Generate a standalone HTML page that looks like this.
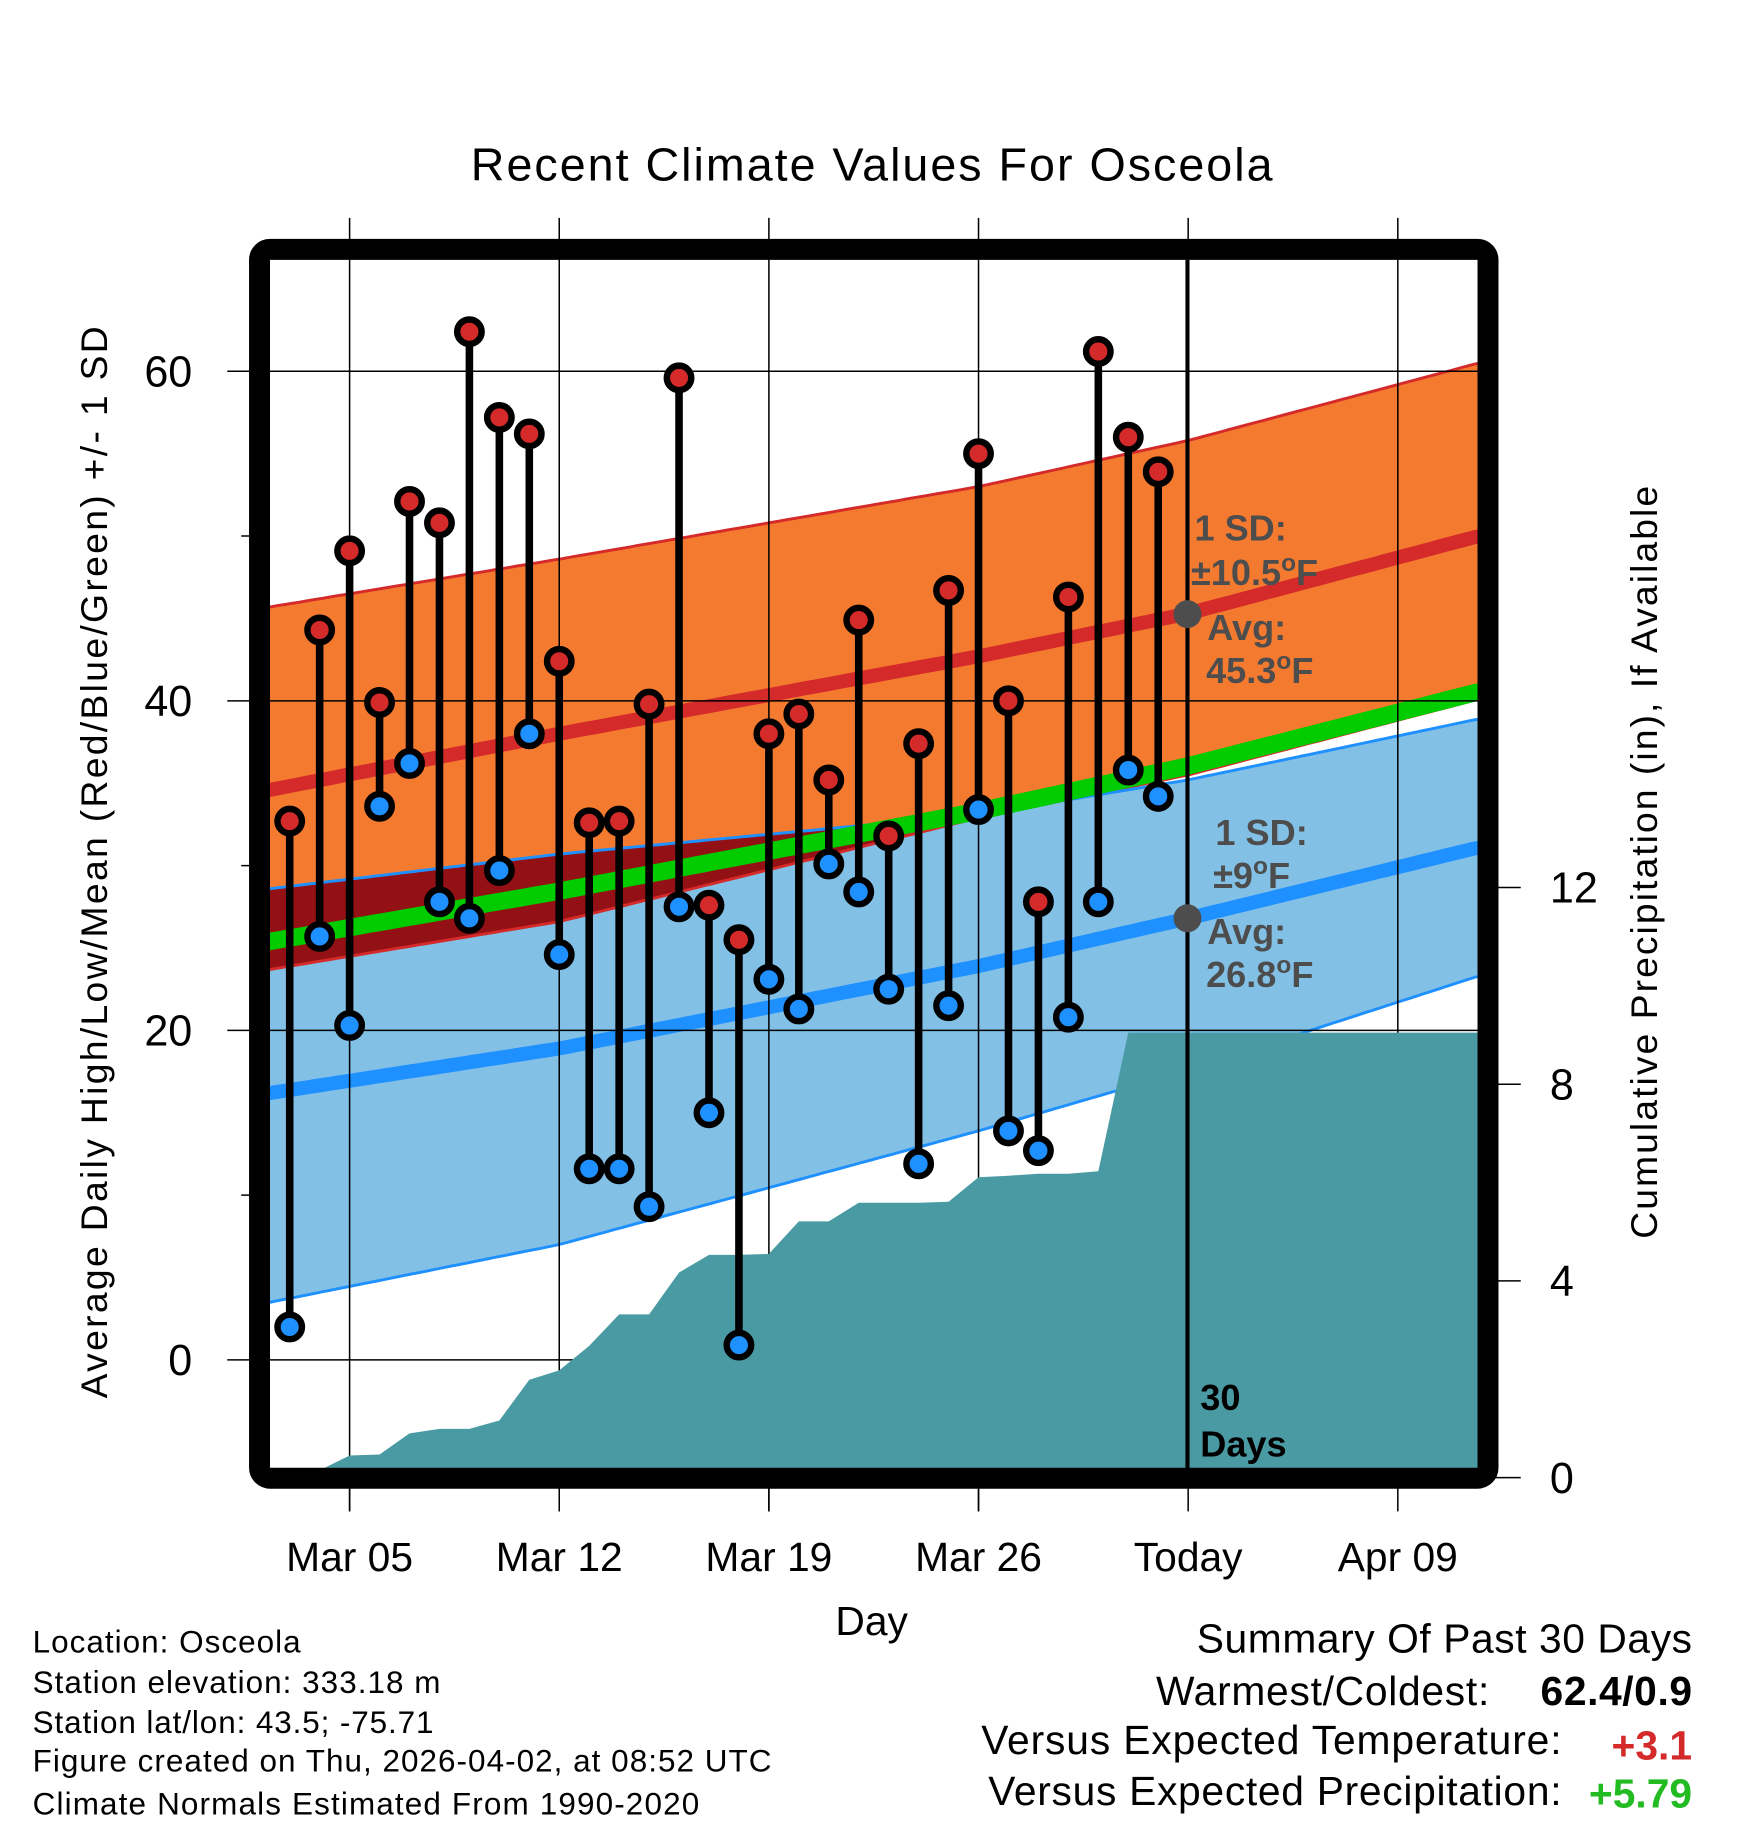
<!DOCTYPE html>
<html><head><meta charset="utf-8"><style>
html,body{margin:0;padding:0;background:#fff;}
svg{display:block;font-family:"Liberation Sans",Arial,sans-serif;}
</style></head><body>
<svg id="chart" width="1748" height="1828" viewBox="0 0 1500 1568.67" xmlns="http://www.w3.org/2000/svg">
<defs><clipPath id="plotclip"><rect x="231.7" y="223" width="1036.6" height="1037"/></clipPath></defs>
<rect width="1500" height="1568.67" fill="#fff"/>
<g id="bands" clip-path="url(#plotclip)"></g>
<g id="grid"></g>
<g id="precip" clip-path="url(#plotclip)"></g>
<g id="gridtop"></g>
<g id="marks"></g>
<g id="annot">
<line x1="1019" y1="223" x2="1019" y2="1260" stroke="#000" stroke-width="3.5"/>
<circle cx="1019" cy="527" r="12" fill="#4d4d4d"/>
<circle cx="1019" cy="788" r="12" fill="#4d4d4d"/>
<g fill="#4d4d4d" font-weight="bold" font-size="31">
<text x="1025" y="464">1 SD:</text>
<text x="1022" y="502">±10.5<tspan dy="-12" font-size="21">o</tspan><tspan dy="12">F</tspan></text>
<text x="1036" y="549">Avg:</text>
<text x="1035" y="586">45.3<tspan dy="-12" font-size="21">o</tspan><tspan dy="12">F</tspan></text>
<text x="1043" y="725">1 SD:</text>
<text x="1041" y="762">±9<tspan dy="-12" font-size="21">o</tspan><tspan dy="12">F</tspan></text>
<text x="1036" y="810">Avg:</text>
<text x="1035" y="847">26.8<tspan dy="-12" font-size="21">o</tspan><tspan dy="12">F</tspan></text>
</g>
<text x="1030" y="1210" font-size="31" font-weight="bold" fill="#000">30</text>
<text x="1030" y="1250" font-size="31" font-weight="bold" fill="#000">Days</text>
</g>
<rect x="222.7" y="214" width="1054.2" height="1054.5" rx="9" fill="none" stroke="#000" stroke-width="18"/>
<g id="axes"></g>
<text x="748" y="155" font-size="40" text-anchor="middle" textLength="688">Recent Climate Values For Osceola</text>
<text transform="translate(92,740) rotate(-90)" font-size="32" text-anchor="middle" textLength="920">Average Daily High/Low/Mean (Red/Blue/Green) +/- 1 SD</text>
<text transform="translate(1422,740) rotate(-90)" font-size="32" text-anchor="middle" textLength="646">Cumulative Precipitation (in), If Available</text>
<text x="748" y="1403" font-size="35" text-anchor="middle">Day</text>
<g font-size="27">
<text x="28" y="1418" textLength="230">Location: Osceola</text>
<text x="28" y="1453" textLength="350">Station elevation: 333.18 m</text>
<text x="28" y="1487" textLength="344">Station lat/lon: 43.5; -75.71</text>
<text x="28" y="1520" textLength="634">Figure created on Thu, 2026-04-02, at 08:52 UTC</text>
<text x="28" y="1557" textLength="572">Climate Normals Estimated From 1990-2020</text>
</g>
<g font-size="35">
<text x="1452" y="1418" text-anchor="end" textLength="425">Summary Of Past 30 Days</text>
<text x="1278" y="1463" text-anchor="end" textLength="286">Warmest/Coldest:</text>
<text x="1452" y="1463" text-anchor="end" font-weight="bold" textLength="130">62.4/0.9</text>
<text x="1340" y="1505" text-anchor="end" textLength="498">Versus Expected Temperature:</text>
<text x="1452" y="1510" text-anchor="end" font-weight="bold" fill="#d42a2a">+3.1</text>
<text x="1340" y="1549" text-anchor="end" textLength="492">Versus Expected Precipitation:</text>
<text x="1452" y="1551" text-anchor="end" font-weight="bold" fill="#22bb22">+5.79</text>
</g>
</svg>
<script>
// ---- data ----
const dayIdx = [2,3,4,5,6,7,8,9,10,11,12,13,14,15,16,17,18,19,20,21,22,23,24,25,26,27,28,29,30,31];
const highs = [32.7,44.3,49.1,39.9,52.1,50.8,62.4,57.2,56.2,42.4,32.6,32.7,39.8,59.6,27.6,25.5,38.0,39.2,35.2,44.9,31.8,37.4,46.7,55.0,40.0,27.8,46.3,61.2,56.0,53.9];
const lows = [2.0,25.7,20.3,33.6,36.2,27.8,26.8,29.7,38.0,24.6,11.6,11.6,9.3,27.5,15.0,0.9,23.1,21.3,30.1,28.4,22.5,11.9,21.5,33.4,13.9,12.7,20.8,27.8,35.8,34.2];
const precip = [0,0.15,0.45,0.47,0.90,0.99,0.99,1.16,1.99,2.18,2.68,3.32,3.32,4.17,4.53,4.53,4.55,5.21,5.21,5.59,5.59,5.59,5.61,6.11,6.14,6.18,6.18,6.23,9.05,9.05];
const normDays = [1.35,11,25,32,41.7];
const normHigh = [34.6,38.0,42.7,45.3,50.0];
const normHighUpper = [45.7,48.6,53.0,55.8,60.5];
const normHighLower = [23.7,26.6,32.9,35.5,40.1];
const normLow = [16.2,18.9,23.9,26.8,31.1];
const normLowUpper = [28.6,30.7,33.1,35.2,38.9];
const normLowLower = [3.5,7.0,13.9,17.6,23.3];
const tempTicks = [0,20,40,60];
const tempMinor = [10,30,50];
const precipTicks = [0,4,8,12];
const xTickDays = [4,11,18,25,32,39];
const xTickLabels = ["Mar 05","Mar 12","Mar 19","Mar 26","Today","Apr 09"];
// ---- scales ----
const X = d => 197.2 + 25.7*d;
const Y = t => 1167 - 14.14*t;
const P = p => 1268 - 42.2*p;
const NS="http://www.w3.org/2000/svg";
function mk(tag, attrs, parent){const e=document.createElementNS(NS,tag);for(const k in attrs)e.setAttribute(k,attrs[k]);parent.appendChild(e);return e;}
function interp(arr,d){
  if(d<=normDays[0])return arr[0];
  for(let i=1;i<normDays.length;i++){if(d<=normDays[i]){const f=(d-normDays[i-1])/(normDays[i]-normDays[i-1]);return arr[i-1]+f*(arr[i]-arr[i-1]);}}
  return arr[arr.length-1];
}
const samples=[];for(let d=normDays[0]-0.5;d<=normDays[normDays.length-1]+0.5;d+=0.25)samples.push(d);
const curve=(arr)=>samples.map(d=>[X(d),Y(interp(arr,d))]);
const pts=a=>a.map(p=>p[0].toFixed(1)+','+p[1].toFixed(1)).join(' ');
const bands=document.getElementById('bands');
let up=curve(normHighUpper), lo=curve(normHighLower);
let e=mk('polygon',{points:pts(up.concat(lo.slice().reverse())),fill:'#f47a30'},bands);


let bu=curve(normLowUpper), bl=curve(normLowLower);
e=mk('polygon',{points:pts(bu.concat(bl.slice().reverse())),fill:'#82c0e6'},bands);


const ov=samples.map(d=>[X(d),Y(Math.min(interp(normHighLower,d),interp(normLowUpper,d)))]);
e=mk('polygon',{points:pts(bu.concat(ov.slice().reverse())),fill:'#931014'},bands);


const mean=samples.map(d=>[X(d),Y((interp(normHigh,d)+interp(normLow,d))/2)]);
const lines=[[up,'#d42a2a',2.5,'high-upper-line'],[lo,'#d42a2a',2.5,'high-lower-line'],[bu,'#1e90ff',2.5,'low-upper-line'],[bl,'#1e90ff',2.5,'low-lower-line'],[mean,'#00cc00',15,'mean-line'],[curve(normHigh),'#d42a2a',12,'avg-high-line'],[curve(normLow),'#1e90ff',12,'avg-low-line']];
lines.forEach(l=>{const p=mk('polyline',{points:pts(l[0]),fill:'none',stroke:l[1],'stroke-width':l[2]},bands);

});
const grid=document.getElementById('grid');
xTickDays.forEach(d=>{const g=mk('line',{x1:X(d),x2:X(d),y1:187,y2:1297,stroke:'#000','stroke-width':1.3},grid);

});
tempTicks.forEach(t=>{const g=mk('line',{x1:195,x2:1268,y1:Y(t),y2:Y(t),stroke:'#000','stroke-width':1.3},grid);

});
const pg=document.getElementById('precip');
const pp=[[X(dayIdx[0]),1270]];
dayIdx.forEach((d,i)=>pp.push([X(d),P(precip[i])]));
pp.push([1270,P(precip[precip.length-1])]);pp.push([1270,1270]);
e=mk('polygon',{points:pts(pp),fill:'#4a9aa3'},pg);


const gt=document.getElementById('gridtop');
xTickDays.forEach(d=>{if(X(d)<1010){const g=mk('line',{x1:X(d),x2:X(d),y1:1260,y2:1297,stroke:'#000','stroke-width':1.3},gt);

}});
const mg=document.getElementById('marks');
dayIdx.forEach((d,i)=>{
  const s=mk('line',{x1:X(d),x2:X(d),y1:Y(highs[i]),y2:Y(lows[i]),stroke:'#000','stroke-width':6.5},mg);
  
  
});
dayIdx.forEach((d,i)=>{
  const h=mk('circle',{cx:X(d),cy:Y(highs[i]),r:10.5,fill:'#d42a2a',stroke:'#000','stroke-width':5.5},mg);
  
  
  const l=mk('circle',{cx:X(d),cy:Y(lows[i]),r:10.5,fill:'#1e90ff',stroke:'#000','stroke-width':5.5},mg);
  
  
});
const ax=document.getElementById('axes');
tempTicks.forEach(t=>{const tx=mk('text',{x:165,y:Y(t)+13,'font-size':37,'text-anchor':'end'},ax);tx.textContent=t;

});
tempMinor.forEach(t=>{const m=mk('line',{x1:207,x2:222,y1:Y(t),y2:Y(t),stroke:'#000','stroke-width':1.3},ax);

});
precipTicks.forEach(p=>{const m=mk('line',{x1:1277,x2:1305,y1:P(p),y2:P(p),stroke:'#000','stroke-width':1.3},ax);


const tx=mk('text',{x:1330,y:P(p)+13,'font-size':37},ax);tx.textContent=p;

});
xTickDays.forEach((d,i)=>{const tx=mk('text',{x:X(d),y:1348,'font-size':35,'text-anchor':'middle'},ax);tx.textContent=xTickLabels[i];

});
</script>
</body></html>
